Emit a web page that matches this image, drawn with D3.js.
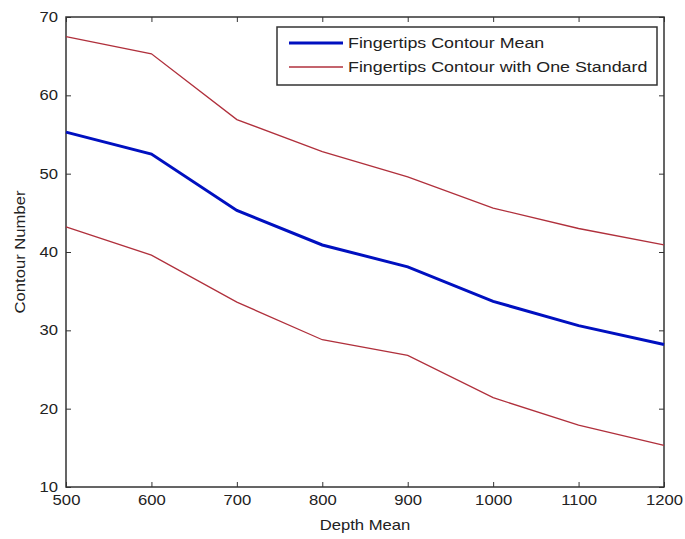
<!DOCTYPE html>
<html>
<head>
<meta charset="utf-8">
<script src="https://cdn.jsdelivr.net/npm/d3@7"></script>
<style>
  body { margin: 0; background: #fff; }
  text { font-family: "Liberation Sans", Arial, sans-serif; fill: #222; }
</style>
</head>
<body>
<div id="chart"></div>
<script>
// data
var depth = [500, 600, 700, 800, 900, 1000, 1100, 1200];
var meanValues = [55.3, 52.5, 45.3, 40.9, 38.1, 33.7, 30.6, 28.2];
var upperValues = [67.5, 65.3, 56.9, 52.8, 49.6, 45.6, 43.0, 40.9];
var lowerValues = [43.2, 39.6, 33.6, 28.8, 26.8, 21.4, 17.9, 15.3];
var xTicks = [500, 600, 700, 800, 900, 1000, 1100, 1200];
var yTicks = [10, 20, 30, 40, 50, 60, 70];
var legendLabels = ["Fingertips Contour Mean", "Fingertips Contour with One Standard"];

var W = 685, H = 539;
var margin = {top: 17, right: 21, bottom: 52, left: 66},
    width = W - margin.left - margin.right,
    height = H - margin.top - margin.bottom;

// the reference text is a bit wider than Arial, stretch it horizontally
var STRETCH = 1.19;
function stretch(sel) {
    sel.each(function () {
        var t = d3.select(this);
        var tx = +t.attr("x") || 0, ty = +t.attr("y") || 0;
        t.attr("x", 0).attr("y", 0)
            .attr("transform", "translate(" + tx + "," + ty + ") scale(" + STRETCH + ",1)");
    });
}

var svg = d3.select("#chart")
    .append("svg")
    .attr("width", W)
    .attr("height", H)
    .append("g")
    .attr("transform", "translate(" + margin.left + "," + margin.top + ")");

var x = d3.scaleLinear().domain([500, 1200]).range([0, width]);
var y = d3.scaleLinear().domain([10, 70]).range([height, 0]);

// box with inward ticks on all sides (matlab style)
function styleAxis(g) {
    g.select(".domain").remove();
    g.selectAll(".tick line").attr("stroke", "#333").attr("stroke-width", 1);
    g.selectAll(".tick text").style("font-size", "14px").attr("fill", "#222").call(stretch);
}

svg.append("g")
    .attr("transform", "translate(0," + height + ")")
    .call(d3.axisBottom(x).tickValues(xTicks).tickSize(-5).tickPadding(8).tickFormat(d3.format("d")))
    .call(styleAxis);
svg.append("g")
    .call(d3.axisTop(x).tickValues(xTicks).tickSize(-5).tickFormat(""))
    .call(styleAxis);
svg.append("g")
    .call(d3.axisLeft(y).tickValues(yTicks).tickSize(-5).tickPadding(8))
    .call(styleAxis);
svg.append("g")
    .attr("transform", "translate(" + width + ",0)")
    .call(d3.axisRight(y).tickValues(yTicks).tickSize(-5).tickFormat(""))
    .call(styleAxis);

svg.append("rect")
    .attr("width", width)
    .attr("height", height)
    .attr("fill", "none")
    .attr("stroke", "#333")
    .attr("stroke-width", 1.5);

var line = d3.line()
    .x(function (d, i) { return x(depth[i]); })
    .y(function (d) { return y(d); });

svg.append("path").datum(upperValues)
    .attr("d", line).attr("fill", "none")
    .attr("stroke", "#b0303c").attr("stroke-width", 1.3);
svg.append("path").datum(lowerValues)
    .attr("d", line).attr("fill", "none")
    .attr("stroke", "#b0303c").attr("stroke-width", 1.3);
svg.append("path").datum(meanValues)
    .attr("d", line).attr("fill", "none")
    .attr("stroke", "#0010c0").attr("stroke-width", 3);

// axis labels
svg.append("text")
    .attr("x", width / 2)
    .attr("y", height + 43)
    .attr("text-anchor", "middle")
    .style("font-size", "14px")
    .text("Depth Mean")
    .call(stretch);
svg.append("text")
    .attr("transform", "translate(-41," + (height / 2) + ") rotate(-90) scale(" + STRETCH + ",1)")
    .attr("text-anchor", "middle")
    .style("font-size", "14px")
    .text("Contour Number");

// legend
var lg = svg.append("g").attr("transform", "translate(211,10)");
lg.append("rect")
    .attr("width", 380)
    .attr("height", 58)
    .attr("fill", "#fff")
    .attr("stroke", "#333")
    .attr("stroke-width", 1.5);
var legendColors = ["#0010c0", "#b0303c"], legendWidths = [3, 1.3];
legendLabels.forEach(function (label, i) {
    var ly = 16 + i * 24;
    lg.append("line")
        .attr("x1", 12).attr("x2", 66)
        .attr("y1", ly).attr("y2", ly)
        .attr("stroke", legendColors[i])
        .attr("stroke-width", legendWidths[i]);
    lg.append("text")
        .attr("x", 71)
        .attr("y", ly + 5)
        .style("font-size", "15px")
        .text(label)
        .call(stretch);
});
</script>
</body>
</html>
